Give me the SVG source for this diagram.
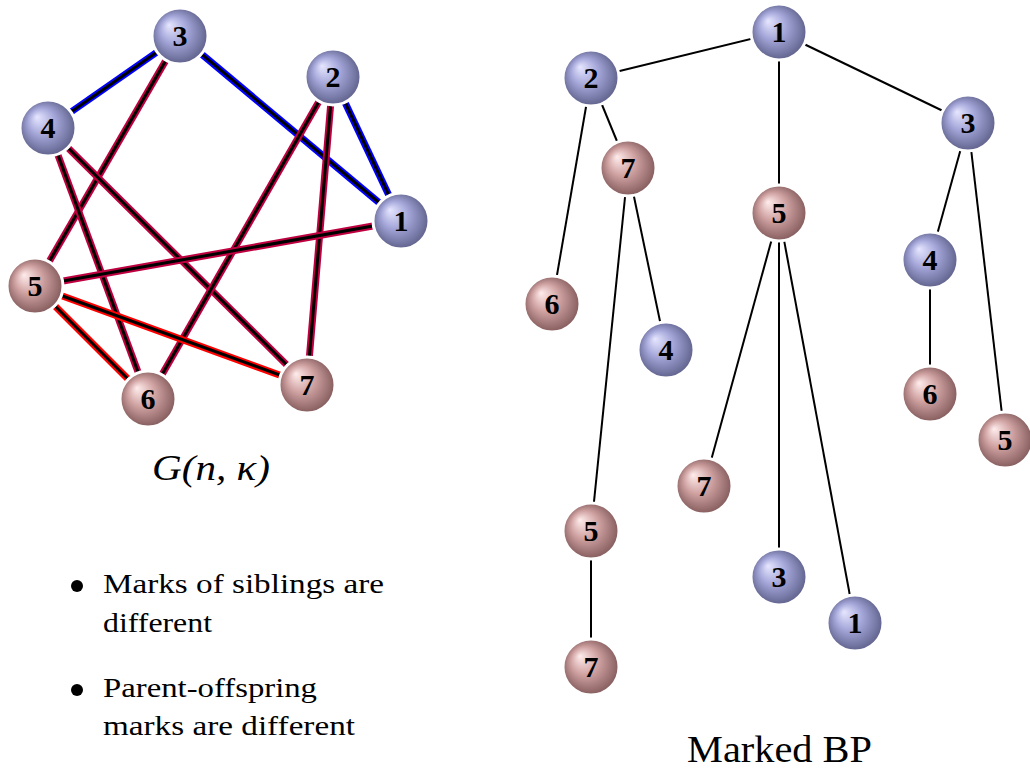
<svg xmlns="http://www.w3.org/2000/svg" width="1030" height="770" viewBox="0 0 1030 770">
<defs>
<radialGradient id="gb" cx="0.5" cy="0.5" r="0.55" fx="0.3" fy="0.3">
<stop offset="0" stop-color="#e6e6ff"/>
<stop offset="0.45" stop-color="#a3a5d8"/>
<stop offset="1" stop-color="#575982"/>
</radialGradient>
<radialGradient id="gp" cx="0.5" cy="0.5" r="0.55" fx="0.3" fy="0.3">
<stop offset="0" stop-color="#ffecec"/>
<stop offset="0.45" stop-color="#d0a2a2"/>
<stop offset="1" stop-color="#7a5253"/>
</radialGradient>
<style>
.ball{stroke:#fff;stroke-width:3}
.b{fill:url(#gb)}
.p{fill:url(#gp)}
.lbl{font-family:"Liberation Serif","Times New Roman",Times,serif;font-weight:bold;font-size:30px;text-anchor:middle;fill:#000}
.eb{stroke:#0000ff;stroke-width:7}
.er{stroke:#ff0000;stroke-width:7}
.em{stroke:#bf0040;stroke-width:7}
.ek{stroke:#000;stroke-width:3}
.t{stroke:#000;stroke-width:2}
.txt{font-family:"Liberation Serif","Times New Roman",Times,serif;fill:#000}
</style>
</defs>
<rect width="1030" height="770" fill="#fff"/>

<g id="graph-edges">
<line class="eb" x1="180" y1="36" x2="48" y2="128"/><line class="ek" x1="180" y1="36" x2="48" y2="128"/>
<line class="eb" x1="180" y1="36" x2="401" y2="221"/><line class="ek" x1="180" y1="36" x2="401" y2="221"/>
<line class="eb" x1="333" y1="77" x2="401" y2="221"/><line class="ek" x1="333" y1="77" x2="401" y2="221"/>
<line class="em" x1="180" y1="36" x2="35" y2="286"/><line class="ek" x1="180" y1="36" x2="35" y2="286"/>
<line class="em" x1="48" y1="128" x2="148" y2="399"/><line class="ek" x1="48" y1="128" x2="148" y2="399"/>
<line class="em" x1="48" y1="128" x2="307" y2="385"/><line class="ek" x1="48" y1="128" x2="307" y2="385"/>
<line class="em" x1="333" y1="77" x2="148" y2="399"/><line class="ek" x1="333" y1="77" x2="148" y2="399"/>
<line class="em" x1="333" y1="77" x2="307" y2="385"/><line class="ek" x1="333" y1="77" x2="307" y2="385"/>
<line class="em" x1="35" y1="286" x2="401" y2="221"/><line class="ek" x1="35" y1="286" x2="401" y2="221"/>
<line class="er" x1="35" y1="286" x2="148" y2="399"/><line class="ek" x1="35" y1="286" x2="148" y2="399"/>
<line class="er" x1="35" y1="286" x2="307" y2="385"/><line class="ek" x1="35" y1="286" x2="307" y2="385"/>
</g>

<g id="g1"><circle class="ball b" cx="401" cy="221" r="28"/><text class="lbl" x="401" y="231">1</text></g>
<g id="g2"><circle class="ball b" cx="333" cy="77" r="28"/><text class="lbl" x="333" y="87">2</text></g>
<g id="g3"><circle class="ball b" cx="180" cy="36" r="28"/><text class="lbl" x="180" y="46">3</text></g>
<g id="g4"><circle class="ball b" cx="48" cy="128" r="28"/><text class="lbl" x="48" y="138">4</text></g>
<g id="g5"><circle class="ball p" cx="35" cy="286" r="28"/><text class="lbl" x="35" y="296">5</text></g>
<g id="g6"><circle class="ball p" cx="148" cy="399" r="28"/><text class="lbl" x="148" y="409">6</text></g>
<g id="g7"><circle class="ball p" cx="307" cy="385" r="28"/><text class="lbl" x="307" y="395">7</text></g>

<text class="txt" x="152" y="480" font-size="36" font-style="italic" textLength="118" lengthAdjust="spacingAndGlyphs">G(n, κ)</text>

<g id="bullets">
<circle cx="77" cy="586" r="6" fill="#000"/>
<text class="txt" x="103" y="593" font-size="27" textLength="281" lengthAdjust="spacingAndGlyphs">Marks of siblings are</text>
<text class="txt" x="103" y="632" font-size="27" textLength="109" lengthAdjust="spacingAndGlyphs">different</text>
<circle cx="77" cy="690" r="6" fill="#000"/>
<text class="txt" x="103" y="697" font-size="27" textLength="214" lengthAdjust="spacingAndGlyphs">Parent-offspring</text>
<text class="txt" x="103" y="735" font-size="27" textLength="252" lengthAdjust="spacingAndGlyphs">marks are different</text>
</g>

<g id="tree-edges">
<line class="t" x1="779" y1="32" x2="591" y2="78"/>
<line class="t" x1="779" y1="32" x2="779" y2="213"/>
<line class="t" x1="779" y1="32" x2="968" y2="123"/>
<line class="t" x1="591" y1="78" x2="552" y2="304"/>
<line class="t" x1="591" y1="78" x2="628" y2="168"/>
<line class="t" x1="628" y1="168" x2="666" y2="350"/>
<line class="t" x1="628" y1="168" x2="591" y2="531"/>
<line class="t" x1="779" y1="213" x2="704" y2="486"/>
<line class="t" x1="779" y1="213" x2="779" y2="577"/>
<line class="t" x1="779" y1="213" x2="855" y2="623"/>
<line class="t" x1="968" y1="123" x2="930" y2="260"/>
<line class="t" x1="968" y1="123" x2="1005" y2="440"/>
<line class="t" x1="930" y1="260" x2="930" y2="394"/>
<line class="t" x1="591" y1="531" x2="591" y2="667"/>
</g>

<g id="t1"><circle class="ball b" cx="779" cy="32" r="28"/><text class="lbl" x="779" y="42">1</text></g>
<g id="t2"><circle class="ball b" cx="591" cy="78" r="28"/><text class="lbl" x="591" y="88">2</text></g>
<g id="t3"><circle class="ball b" cx="968" cy="123" r="28"/><text class="lbl" x="968" y="133">3</text></g>
<g id="t7a"><circle class="ball p" cx="628" cy="168" r="28"/><text class="lbl" x="628" y="178">7</text></g>
<g id="t5a"><circle class="ball p" cx="779" cy="213" r="28"/><text class="lbl" x="779" y="223">5</text></g>
<g id="t6a"><circle class="ball p" cx="552" cy="304" r="28"/><text class="lbl" x="552" y="314">6</text></g>
<g id="t4a"><circle class="ball b" cx="666" cy="350" r="28"/><text class="lbl" x="666" y="360">4</text></g>
<g id="t4b"><circle class="ball b" cx="930" cy="260" r="28"/><text class="lbl" x="930" y="270">4</text></g>
<g id="t6b"><circle class="ball p" cx="930" cy="394" r="28"/><text class="lbl" x="930" y="404">6</text></g>
<g id="t5b"><circle class="ball p" cx="1005" cy="440" r="28"/><text class="lbl" x="1005" y="450">5</text></g>
<g id="t7b"><circle class="ball p" cx="704" cy="486" r="28"/><text class="lbl" x="704" y="496">7</text></g>
<g id="t5c"><circle class="ball p" cx="591" cy="531" r="28"/><text class="lbl" x="591" y="541">5</text></g>
<g id="t3b"><circle class="ball b" cx="779" cy="577" r="28"/><text class="lbl" x="779" y="587">3</text></g>
<g id="t1b"><circle class="ball b" cx="855" cy="623" r="28"/><text class="lbl" x="855" y="633">1</text></g>
<g id="t7c"><circle class="ball p" cx="591" cy="667" r="28"/><text class="lbl" x="591" y="677">7</text></g>

<text class="txt" x="687" y="762" font-size="37" textLength="185" lengthAdjust="spacingAndGlyphs">Marked BP</text>
</svg>
